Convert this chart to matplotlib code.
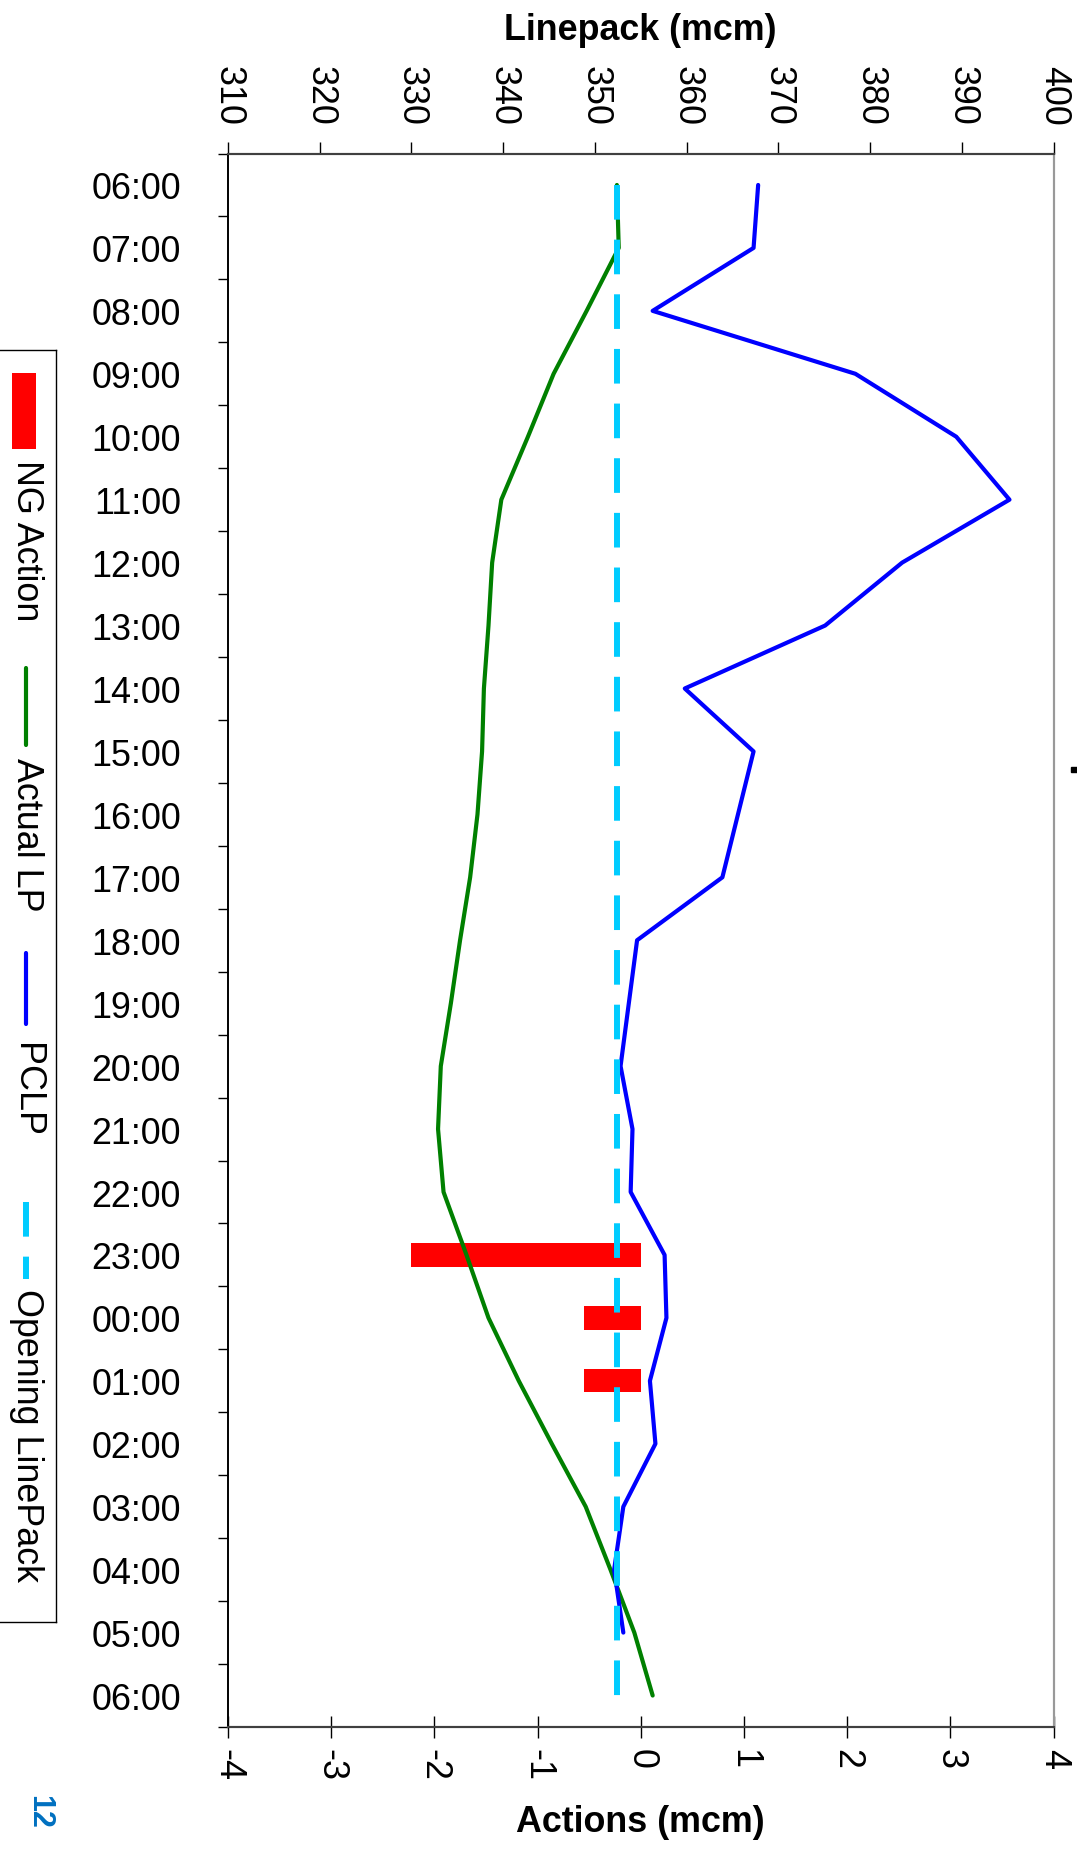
import numpy as np
import matplotlib
matplotlib.use('Agg')
import matplotlib.pyplot as plt
from matplotlib.patches import Rectangle

plt.rcParams['font.family'] = ['Liberation Sans', 'DejaVu Sans']
plt.rcParams['axes.unicode_minus'] = False

# hourly gas day, 06:00 to 06:00
hours = ['06:00', '07:00', '08:00', '09:00', '10:00', '11:00', '12:00',
         '13:00', '14:00', '15:00', '16:00', '17:00', '18:00', '19:00',
         '20:00', '21:00', '22:00', '23:00', '00:00', '01:00', '02:00',
         '03:00', '04:00', '05:00', '06:00']

actual_lp = [352.4, 352.6, 349.1, 345.5, 342.7, 339.8, 338.8, 338.4, 337.9,
             337.7, 337.2, 336.4, 335.3, 334.3, 333.2, 332.9, 333.5, 336.0,
             338.4, 341.7, 345.3, 349.0, 351.7, 354.3, 356.3]

pclp = [367.8, 367.3, 356.3, 378.4, 389.4, 395.2, 383.5, 375.1, 359.8, 367.3,
        365.6, 363.9, 354.6, 353.7, 352.8, 354.1, 353.9, 357.6, 357.8, 356.0,
        356.6, 353.1, 352.1, 353.1]

opening_lp = 352.4

ng_slots = ['23:00', '00:00', '01:00']
ng_action = [-2.23, -0.55, -0.55]

lp_ticks = list(range(310, 401, 10))
action_ticks = list(range(-4, 5))

W, H, DPI = 1077, 1858, 100
FS = 25.8


def fx(px):
    return px / W


def fy(py):
    return 1 - py / H


fig = plt.figure(figsize=(W / DPI, H / DPI), dpi=DPI)
ax = fig.add_axes([fx(228), fy(1728), (1053.5 - 228) / W, (1728 - 154.5) / H])

pos = np.arange(len(hours))

# actions on the bottom axis
ax.barh([hours.index(h) for h in ng_slots], ng_action, height=0.37,
        color='#FF0000', linewidth=0, zorder=1)
ax.set_xlim(-4, 4)
ax.set_ylim(len(hours) - 0.5, -0.5)
ax.set_xticks(action_ticks)
ax.set_xticklabels([str(v) for v in action_ticks], rotation=270)
ax.set_yticks(pos)
ax.set_yticklabels(hours)
ax.set_yticks(np.arange(-0.5, len(hours)), minor=True)
ax.tick_params(axis='y', which='major', length=0, pad=34, labelsize=FS)
ax.tick_params(axis='y', which='minor', length=7.2, width=1.0, direction='out')
ax.tick_params(axis='x', which='major', direction='inout', length=16,
               width=1.0, pad=7, labelsize=FS)

# linepack on the top axis
ax2 = ax.twiny()
ax2.plot(actual_lp, pos, color='#008000', lw=3.0, solid_capstyle='round')
ax2.plot(pclp, pos[:len(pclp)], color='#0000FF', lw=3.0, solid_capstyle='round')
ax2.plot([opening_lp] * len(hours), pos, color='#00CCFF', lw=4.3,
         dashes=(5.8, 3.35))
ax2.set_xlim(310, 400)
ax2.set_xticks(lp_ticks)
ax2.set_xticklabels([str(v) for v in lp_ticks], rotation=270)
ax2.tick_params(axis='x', direction='out', length=8.6, width=1.0, pad=12,
                labelsize=FS)

for a in (ax, ax2):
    a.spines['top'].set_color('#404040')
    a.spines['top'].set_linewidth(1.5)
    a.spines['bottom'].set_color('#404040')
    a.spines['bottom'].set_linewidth(1.5)
    a.spines['left'].set_color('black')
    a.spines['left'].set_linewidth(1.2)
    a.spines['right'].set_color('#999999')
    a.spines['right'].set_linewidth(1.5)

fig.text(fx(640.7), fy(30), 'Linepack (mcm)', fontsize=FS, fontweight='bold',
         ha='center', va='center')
fig.text(fx(640.7), fy(1823), 'Actions (mcm)', fontsize=FS, fontweight='bold',
         ha='center', va='center')

# rotated legend box on the left
lg = fig.add_axes([fx(-2), fy(1623), 58 / W, (1623 - 351) / H])
lg.set_xlim(-2, 56)
lg.set_ylim(1623, 351)
lg.set_xticks([])
lg.set_yticks([])
for s in lg.spines.values():
    s.set_linewidth(1.0)
    s.set_color('black')
lg.add_patch(Rectangle((12, 374), 24, 76, color='#FF0000', linewidth=0))
lg.plot([26, 26], [669, 746], color='#008000', lw=3.0, solid_capstyle='round')
lg.plot([26, 26], [954, 1025], color='#0000FF', lw=3.0, solid_capstyle='round')
lg.plot([26, 26], [1203, 1280], color='#00CCFF', lw=4.3, dashes=(5.8, 3.35))
for label, top in [('NG Action', 460), ('Actual LP', 758), ('PCLP', 1043),
                   ('Opening LinePack', 1289)]:
    lg.text(26, top, label, fontsize=FS, rotation=270, ha='center', va='top')

fig.text(fx(39), fy(1812), '12', rotation=270, color='#0070C0', fontsize=22,
         fontweight='bold', ha='center', va='center')
fig.patches.append(Rectangle((fx(1071), fy(773)), 6 / W, 5 / H,
                             transform=fig.transFigure, color='black'))

fig.savefig('out.png', dpi=DPI)
